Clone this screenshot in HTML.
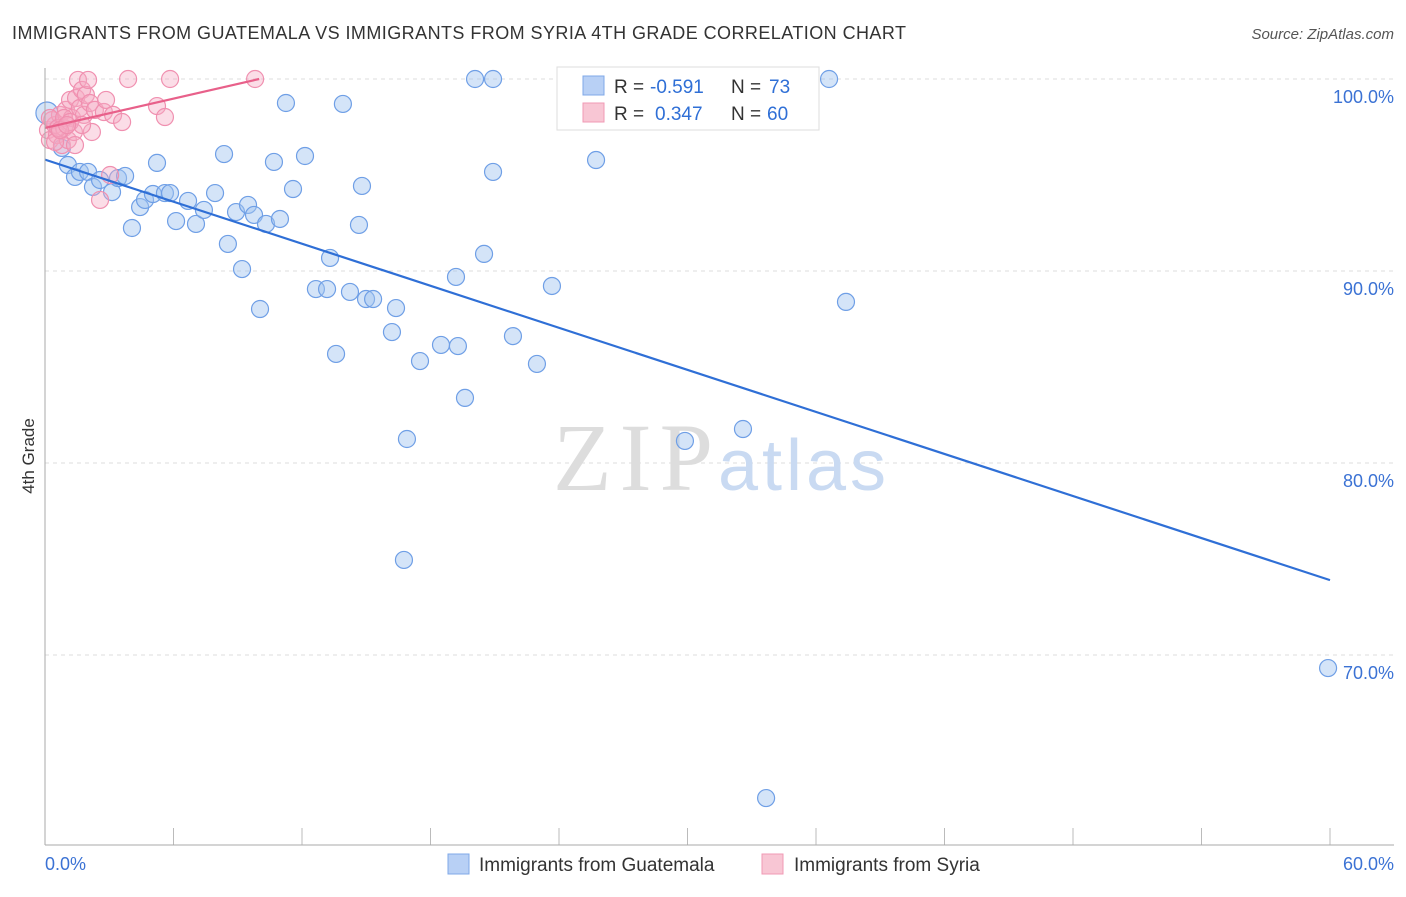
<!DOCTYPE html>
<html><head><meta charset="utf-8"><style>
body{margin:0;background:#fff;font-family:"Liberation Sans",sans-serif;}
</style></head><body>
<svg width="1406" height="892" xmlns="http://www.w3.org/2000/svg" font-family="Liberation Sans, sans-serif">
<text x="12" y="39" font-size="18" fill="#333" textLength="894">IMMIGRANTS FROM GUATEMALA VS IMMIGRANTS FROM SYRIA 4TH GRADE CORRELATION CHART</text>
<text x="1394" y="39" font-size="15" fill="#555" font-style="italic" text-anchor="end">Source: ZipAtlas.com</text>
<g id="grid"></g>
<text x="553" y="490" font-size="96" fill="#ddd" font-family="Liberation Serif, serif" textLength="160">ZIP</text>
<text x="718" y="490" font-size="72" fill="#c9daf2" textLength="168">atlas</text>
<g id="pts"></g>
<g id="lines"></g>
<line x1="45" y1="68" x2="45" y2="845" stroke="#aaa"/>
<line x1="45" y1="845" x2="1394" y2="845" stroke="#aaa"/>
<text transform="translate(34,456) rotate(-90)" font-size="17" fill="#333" text-anchor="middle">4th Grade</text>
<text x="45" y="870" font-size="18" fill="#3b72d4">0.0%</text>
<text x="1394" y="870" font-size="18" fill="#3b72d4" text-anchor="end">60.0%</text>
<g>
<rect x="557" y="67" width="262" height="63" fill="#fff" stroke="#ddd"/>
<rect x="583" y="76" width="21" height="19" fill="#b8d0f5" stroke="#7fa8e8"/>
<rect x="583" y="103" width="21" height="19" fill="#f8c6d4" stroke="#f09ab4"/>
<text x="614" y="93" font-size="19" fill="#333">R =</text>
<text x="650" y="93" font-size="19" fill="#2f6fd6">-0.591</text>
<text x="731" y="93" font-size="19" fill="#333">N =</text>
<text x="769" y="93" font-size="19" fill="#2f6fd6">73</text>
<text x="614" y="120" font-size="19" fill="#333">R =</text>
<text x="655" y="120" font-size="19" fill="#2f6fd6">0.347</text>
<text x="731" y="120" font-size="19" fill="#333">N =</text>
<text x="767" y="120" font-size="19" fill="#2f6fd6">60</text>
</g>
<g>
<rect x="448" y="854" width="21" height="20" fill="#b8d0f5" stroke="#7fa8e8"/>
<text x="479" y="871" font-size="19" fill="#333">Immigrants from Guatemala</text>
<rect x="762" y="854" width="21" height="20" fill="#f8c6d4" stroke="#f09ab4"/>
<text x="794" y="871" font-size="19" fill="#333">Immigrants from Syria</text>
</g>
</svg>
<script>
const yTicks=[100,90,80,70];
const yTickLabels=["100.0%","90.0%","80.0%","70.0%"];
const xTicks=[0,6,12,18,24,30,36,42,48,54,60];
const bluePx=[[47,113],[62,148],[68,165],[75,177],[80,172],[88,172],[93,187],[100,180],[112,192],[118,178],[125,176],[132,228],[140,207],[145,200],[153,194],[157,163],[165,193],[170,193],[176,221],[188,201],[196,224],[204,210],[215,193],[224,154],[228,244],[236,212],[242,269],[248,205],[254,215],[260,309],[266,224],[280,219],[286,103],[274,162],[293,189],[305,156],[316,289],[327,289],[330,258],[336,354],[343,104],[350,292],[359,225],[362,186],[366,299],[373,299],[392,332],[396,308],[407,439],[420,361],[404,560],[441,345],[456,277],[458,346],[465,398],[475,79],[484,254],[493,79],[493,172],[513,336],[537,364],[552,286],[596,160],[685,441],[743,429],[766,798],[829,79],[846,302],[1328,668]];
const pinkPx=[[48,130],[50,140],[52,120],[55,125],[57,135],[60,115],[62,145],[64,128],[66,110],[68,140],[70,100],[72,118],[74,132],[76,98],[78,80],[80,108],[82,90],[84,115],[86,95],[88,80],[90,103],[92,132],[95,110],[100,200],[104,112],[106,100],[110,175],[113,115],[122,122],[128,79],[157,106],[165,117],[170,79],[255,79],[50,118],[55,142],[58,128],[64,118],[70,122],[75,145],[82,125],[60,130],[67,125]];
const blueX=bluePx.map(p=>+((p[0]-45)*60/1285).toFixed(2));
const blueY=bluePx.map(p=>+(100-(p[1]-79)/19.2).toFixed(2));
const pinkX=pinkPx.map(p=>+((p[0]-45)*60/1285).toFixed(2));
const pinkY=pinkPx.map(p=>+(100-(p[1]-79)/19.2).toFixed(2));
const blueLine=[[0,95.8],[60,73.9]];
const pinkLine=[[0,97.45],[10,100]];
const sx=v=>45+v*1285/60, sy=v=>79+(100-v)*19.2;
const NS="http://www.w3.org/2000/svg";
const grid=document.getElementById('grid'),pts=document.getElementById('pts'),lines=document.getElementById('lines');
function mk(t,a,parent){const e=document.createElementNS(NS,t);for(const k in a)e.setAttribute(k,a[k]);parent.appendChild(e);return e;}
yTicks.forEach((v,i)=>{
 const l=mk('line',{x1:45,x2:1394,y1:sy(v),y2:sy(v),stroke:'#ddd','stroke-dasharray':'4,4'},grid);
 
 
 const t=mk('text',{x:1394,y:sy(v)+24,'font-size':18,fill:'#3b72d4','text-anchor':'end'},grid);
 t.textContent=yTickLabels[i];
 
 
});
xTicks.forEach(v=>{
 const l=mk('line',{x1:sx(v),x2:sx(v),y1:828,y2:845,stroke:'#bbb'},grid);
 
 
});
blueX.forEach((x,i)=>{
 const c=mk('circle',{cx:sx(x),cy:sy(blueY[i]),r:i==0?11:8.5,fill:'rgba(160,195,240,0.45)',stroke:'#6f9fe6','stroke-width':1.2},pts);
 
 
});
pinkX.forEach((x,i)=>{
 const c=mk('circle',{cx:sx(x),cy:sy(pinkY[i]),r:8.5,fill:'rgba(245,170,195,0.4)',stroke:'#f090b0','stroke-width':1.2},pts);
 
 
});
const bl=mk('line',{x1:sx(blueLine[0][0]),y1:sy(blueLine[0][1]),x2:sx(blueLine[1][0]),y2:sy(blueLine[1][1]),stroke:'#2f6fd6','stroke-width':2.2},lines);


const pl=mk('line',{x1:sx(pinkLine[0][0]),y1:sy(pinkLine[0][1]),x2:sx(pinkLine[1][0]),y2:sy(pinkLine[1][1]),stroke:'#e8608a','stroke-width':2.2},lines);


</script>
</body></html>
